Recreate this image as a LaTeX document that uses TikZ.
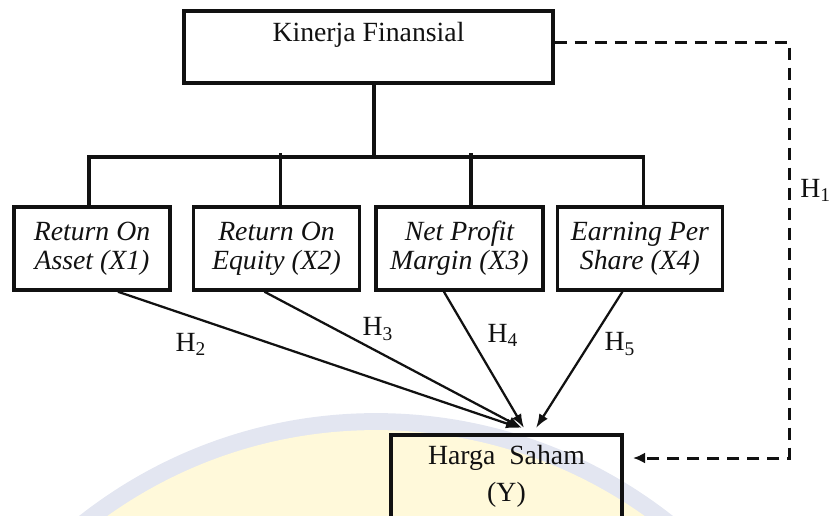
\documentclass[tikz,border=0pt]{standalone}
\usepackage{fontspec}
\setmainfont{Liberation Serif}
\usepackage{tikz}
\usetikzlibrary{arrows.meta,positioning}
\definecolor{kfInk}{HTML}{111111}
\definecolor{kfWmBlue}{HTML}{E3E6F1}
\definecolor{kfWmYellow}{HTML}{FFF9DA}
\tikzset{
  kfTree/.style={draw=kfInk,line width=0.07cm},
  kfPath/.style={draw=kfInk,line width=0.045cm,-{Latex[length=0.28cm,width=0.2cm]}},
  kfDash/.style={draw=kfInk,line width=0.06cm,dash pattern=on 0.24cm off 0.16cm,
                 -{Latex[length=0.24cm,width=0.22cm]}},
  kfHyp/.style={font=\fontsize{15.8}{17}\selectfont,text=kfInk,inner sep=0pt}
}

\begin{document}
\begin{tikzpicture}[x=0.02cm,y=-0.02cm,
  box/.style={draw=kfInk,line width=0.07cm,align=center,inner sep=0pt,
              minimum height=1.66cm,font=\itshape\fontsize{15.8}{16.5}\selectfont,
              text=kfInk},
  >=Latex]
\useasboundingbox (0,0) rectangle (829,515);
% watermark behind the picture
\fill[kfWmBlue] (376,893) circle (9.6cm);
\fill[kfWmYellow] (376,893) circle (9.26cm);

\node[draw=kfInk,line width=0.07cm,minimum width=7.38cm,minimum height=1.44cm,
      inner sep=0pt,text depth=17.8pt,font=\fontsize{15.8}{17}\selectfont,text=kfInk]
      (KF) at (368.5,47) {Kinerja Finansial};
\node[box,minimum width=3.12cm] (R1) at (92,248.5) {Return On\\Asset (X1)};
\node[box,minimum width=3.32cm,right=0.40cm of R1] (R2) {Return On\\Equity (X2)};
\node[box,minimum width=3.34cm,right=0.26cm of R2] (R3) {Net Profit\\Margin (X3)};
\node[box,minimum width=3.3cm,right=0.22cm of R3] (R4) {Earning Per\\Share (X4)};
\node[draw=kfInk,line width=0.07cm,minimum width=4.62cm,minimum height=1.68cm,
      inner sep=0pt,anchor=north,align=center,font=\fontsize{15.8}{21}\selectfont,
      text=kfInk] (Y) at (506.5,433) {Harga~~Saham\\(Y)};

% tree from Kinerja Finansial
\draw[kfTree] ([xshift=0.11cm]KF.south) -- ++(0,72) coordinate (bus);
\draw[kfTree] ([xshift=-0.06cm]R1.north) |- (bus) -| ([xshift=0.07cm]R4.north);
\draw[kfTree] ([xshift=0.08cm]R2.north) -- ++(0,-52);
\draw[kfTree] ([xshift=0.23cm]R3.north) -- ++(0,-52);

% paths to Harga Saham
\draw[kfPath] ([xshift=0.52cm]R1.south) -- ([xshift=0.27cm,yshift=0.1cm]Y.north);
\draw[kfPath] ([xshift=-0.24cm]R2.south) -- ([xshift=0.31cm,yshift=0.1cm]Y.north);
\draw[kfPath] ([xshift=-0.31cm]R3.south) -- ([xshift=0.35cm,yshift=0.1cm]Y.north);
\draw[kfPath] ([xshift=-0.35cm]R4.south) -- ([xshift=0.59cm,yshift=0.1cm]Y.north);

% direct path H1
\coordinate (c1) at (789,458);
\coordinate (yin) at (633,458);
\draw[kfDash] ([yshift=0.1cm]KF.east) -| (c1) -- (yin);

\node[kfHyp,anchor=west] (h1) at (800,190) {H\textsubscript{1}};
\node[kfHyp] (h2) at (191,344) {H\textsubscript{2}};
\node[kfHyp] (h3) at (378,329) {H\textsubscript{3}};
\node[kfHyp] (h4) at (503,335) {H\textsubscript{4}};
\node[kfHyp] (h5) at (620,344) {H\textsubscript{5}};
\end{tikzpicture}
\end{document}
